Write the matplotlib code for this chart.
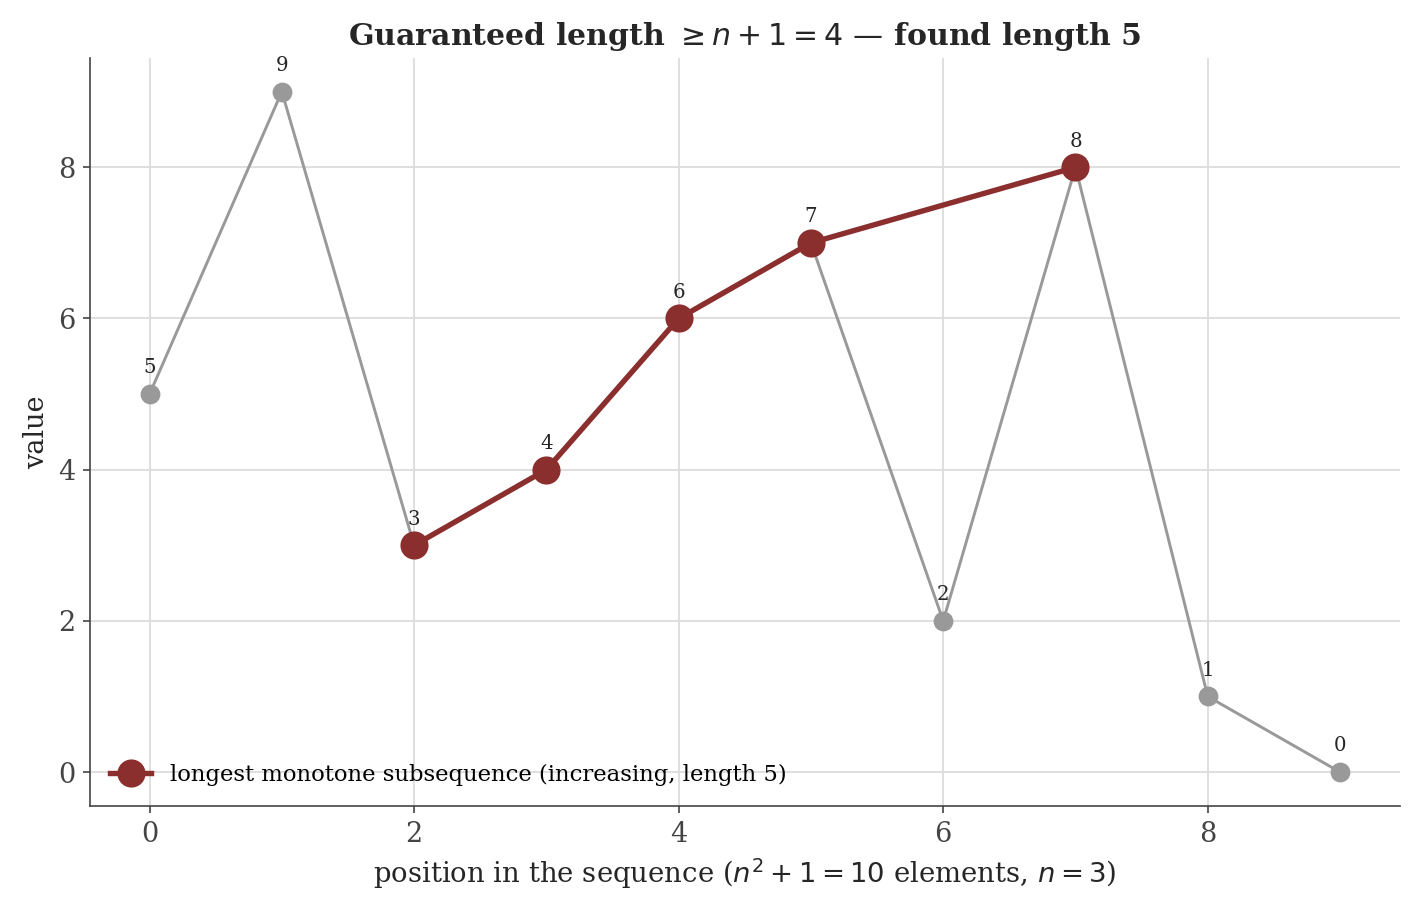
import matplotlib.pyplot as plt
import numpy as np

# dati
sequenza = [5, 9, 3, 4, 6, 7, 2, 8, 1, 0]
idx_mono = [2, 3, 4, 5, 7]
val_mono = [3, 4, 6, 7, 8]

plt.rcParams['font.family'] = 'DejaVu Serif'

fig = plt.figure(figsize=(1418 / 150, 915 / 150), dpi=150)
ax = fig.add_axes([0.0635, 0.119, 0.9235, 0.818])

pos = np.arange(len(sequenza))
ax.plot(pos, sequenza, color='#999999', lw=1.4, marker='o', ms=8.5, zorder=2)
ax.plot(idx_mono, val_mono, color='#8b2e2e', lw=2.6, marker='o', ms=12.5, zorder=3,
        label='longest monotone subsequence (increasing, length 5)')

for x, v in zip(pos, sequenza):
    ax.annotate(str(v), (x, v), xytext=(0, 8), textcoords='offset points',
                ha='center', va='bottom', fontsize=9.5, color='#262626')

ax.grid(True, color='#dddddd', lw=0.9)
ax.set_axisbelow(True)
for s in ['top', 'right']:
    ax.spines[s].set_visible(False)
for s in ['left', 'bottom']:
    ax.spines[s].set_color('#444444')
ax.tick_params(labelsize=13, colors='#444444')

ax.set_xlabel(r'position in the sequence ($n^2+1=10$ elements, $n=3$)', fontsize=13.2, color='#262626')
ax.set_ylabel('value', fontsize=13, color='#262626')
ax.set_title(r'Guaranteed length $\geq n+1=4$ — found length 5', fontsize=14.4,
             fontweight='bold', color='#262626')

ax.legend(loc='lower left', frameon=False, fontsize=10.9, handlelength=1.8)

fig.savefig('out.png', dpi=150)
